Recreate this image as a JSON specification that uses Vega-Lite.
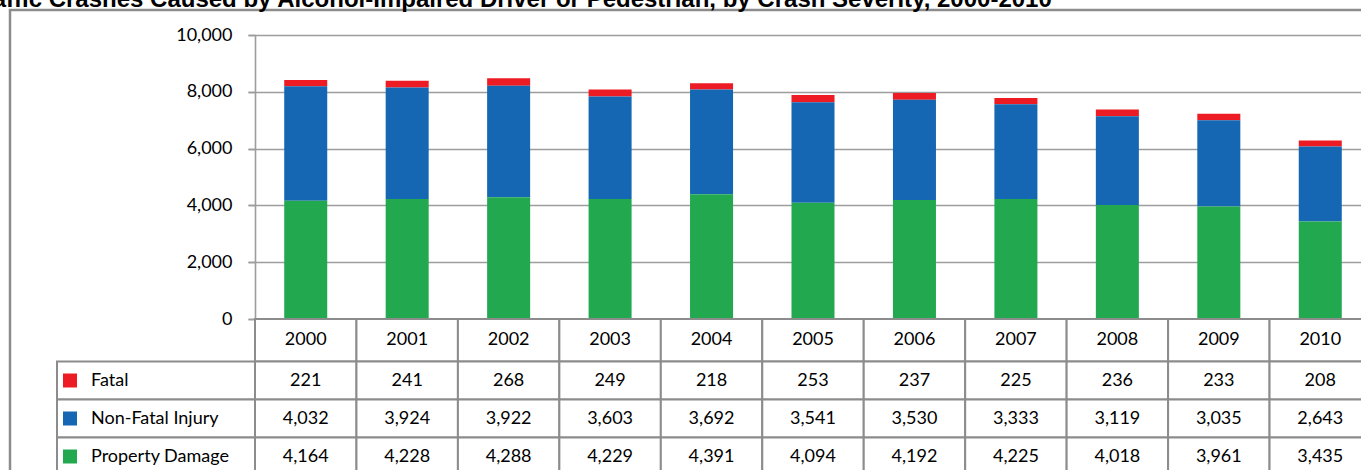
{
  "$schema": "https://vega.github.io/schema/vega-lite/v6.json",
  "autosize": {"type": "none"},
  "padding": {"left": 10, "top": 10, "right": -24, "bottom": -20},
  "width": 1375,
  "height": 480,
  "background": "white",
  "title": {
    "text": "Traffic Crashes Caused by Alcohol-Impaired Driver or Pedestrian, by Crash Severity, 2000-2010",
    "font": "Liberation Sans",
    "fontSize": 24,
    "fontWeight": "bold",
    "color": "black",
    "anchor": "start",
    "frame": "group",
    "dx": -40,
    "dy": 21,
    "baseline": "alphabetic",
    "offset": 0
  },
  "config": {
    "font": "Lato",
    "view": {"stroke": "#8c8c8c", "strokeWidth": 2.5}
  },
  "data": {
    "values": [
      {"year": 2000, "severity": "Fatal", "count": 221},
      {"year": 2001, "severity": "Fatal", "count": 241},
      {"year": 2002, "severity": "Fatal", "count": 268},
      {"year": 2003, "severity": "Fatal", "count": 249},
      {"year": 2004, "severity": "Fatal", "count": 218},
      {"year": 2005, "severity": "Fatal", "count": 253},
      {"year": 2006, "severity": "Fatal", "count": 237},
      {"year": 2007, "severity": "Fatal", "count": 225},
      {"year": 2008, "severity": "Fatal", "count": 236},
      {"year": 2009, "severity": "Fatal", "count": 233},
      {"year": 2010, "severity": "Fatal", "count": 208},
      {"year": 2000, "severity": "Non-Fatal Injury", "count": 4032},
      {"year": 2001, "severity": "Non-Fatal Injury", "count": 3924},
      {"year": 2002, "severity": "Non-Fatal Injury", "count": 3922},
      {"year": 2003, "severity": "Non-Fatal Injury", "count": 3603},
      {"year": 2004, "severity": "Non-Fatal Injury", "count": 3692},
      {"year": 2005, "severity": "Non-Fatal Injury", "count": 3541},
      {"year": 2006, "severity": "Non-Fatal Injury", "count": 3530},
      {"year": 2007, "severity": "Non-Fatal Injury", "count": 3333},
      {"year": 2008, "severity": "Non-Fatal Injury", "count": 3119},
      {"year": 2009, "severity": "Non-Fatal Injury", "count": 3035},
      {"year": 2010, "severity": "Non-Fatal Injury", "count": 2643},
      {"year": 2000, "severity": "Property Damage", "count": 4164},
      {"year": 2001, "severity": "Property Damage", "count": 4228},
      {"year": 2002, "severity": "Property Damage", "count": 4288},
      {"year": 2003, "severity": "Property Damage", "count": 4229},
      {"year": 2004, "severity": "Property Damage", "count": 4391},
      {"year": 2005, "severity": "Property Damage", "count": 4094},
      {"year": 2006, "severity": "Property Damage", "count": 4192},
      {"year": 2007, "severity": "Property Damage", "count": 4225},
      {"year": 2008, "severity": "Property Damage", "count": 4018},
      {"year": 2009, "severity": "Property Damage", "count": 3961},
      {"year": 2010, "severity": "Property Damage", "count": 3435}
    ]
  },
  "resolve": {"scale": {"x": "independent", "y": "independent"}},
  "layer": [
    {
      "mark": {"type": "rule", "opacity": 0},
      "encoding": {
        "y": {
          "field": "count", "type": "quantitative",
          "scale": {"domain": [0, 10000], "range": [309, 25], "nice": false},
          "axis": {
            "orient": "left", "offset": -238, "values": [0, 2000, 4000, 6000, 8000, 10000],
            "tickSize": -1123, "tickColor": "#9d9d9d", "tickWidth": 1.6,
            "domain": false, "labels": false, "grid": false, "title": null
          }
        }
      }
    },
    {
      "mark": {"type": "bar"},
      "encoding": {
        "x": {
          "field": "year", "type": "ordinal",
          "scale": {"range": [245, 1361], "paddingInner": 0.576, "paddingOuter": 0.288},
          "axis": null
        },
        "y": {
          "field": "count", "type": "quantitative", "stack": "zero",
          "scale": {"domain": [0, 10000], "range": [309, 25], "nice": false},
          "axis": {
            "orient": "left", "offset": -245, "values": [0, 2000, 4000, 6000, 8000, 10000],
            "labelExpr": "format(datum.value, ',')", "tickSize": 7, "tickColor": "#9d9d9d", "tickWidth": 1.6,
            "domain": true, "domainColor": "#9d9d9d", "domainWidth": 1.6,
            "labelFont": "Lato", "labelFontSize": 18, "labelColor": "black", "labelPadding": 16,
            "grid": false, "title": null
          }
        },
        "color": {
          "field": "severity", "type": "nominal",
          "scale": {"domain": ["Fatal", "Non-Fatal Injury", "Property Damage"], "range": ["#ED1C24", "#1667B3", "#22A94F"]},
          "legend": null
        },
        "order": {"field": "severity", "sort": "descending"}
      }
    },
    {
      "transform": [{"filter": "datum.severity == 'Fatal'"}],
      "mark": {"type": "rect", "fill": "white", "stroke": "#8c8c8c", "strokeWidth": 2},
      "encoding": {
        "x": {"field": "year", "type": "ordinal", "scale": {"range": [245, 1361], "paddingInner": 0, "paddingOuter": 0}, "axis": null},
        "y": {"datum": "Year", "type": "nominal", "scale": {"domain": ["Year"], "range": [309, 351.5], "paddingInner": 0, "paddingOuter": 0}, "axis": null}
      }
    },
    {
      "transform": [{"filter": "datum.severity == 'Fatal'"}],
      "mark": {"type": "text", "font": "Lato", "fontSize": 18, "color": "black", "baseline": "middle", "align": "center"},
      "encoding": {
        "x": {"field": "year", "type": "ordinal", "scale": {"range": [245, 1361], "paddingInner": 0, "paddingOuter": 0}, "axis": null},
        "y": {"datum": "Year", "type": "nominal", "scale": {"domain": ["Year"], "range": [309, 351.5], "paddingInner": 0, "paddingOuter": 0}, "axis": null},
        "text": {"field": "year", "type": "ordinal"}
      }
    },
    {
      "mark": {"type": "rect", "fill": "white", "stroke": "#8c8c8c", "strokeWidth": 2},
      "encoding": {
        "x": {"field": "year", "type": "ordinal", "scale": {"range": [245, 1361], "paddingInner": 0, "paddingOuter": 0}, "axis": null},
        "y": {"field": "severity", "type": "nominal", "scale": {"domain": ["Fatal", "Non-Fatal Injury", "Property Damage"], "range": [351.5, 465.5], "paddingInner": 0, "paddingOuter": 0}, "axis": null}
      }
    },
    {
      "mark": {"type": "text", "font": "Lato", "fontSize": 18, "color": "black", "baseline": "middle", "align": "center"},
      "encoding": {
        "x": {"field": "year", "type": "ordinal", "scale": {"range": [245, 1361], "paddingInner": 0, "paddingOuter": 0}, "axis": null},
        "y": {"field": "severity", "type": "nominal", "scale": {"domain": ["Fatal", "Non-Fatal Injury", "Property Damage"], "range": [351.5, 465.5], "paddingInner": 0, "paddingOuter": 0}, "axis": null},
        "text": {"field": "count", "type": "quantitative", "format": ","}
      }
    },
    {
      "transform": [{"filter": "datum.year == 2000"}],
      "mark": {"type": "rect", "fill": "white", "stroke": "#8c8c8c", "strokeWidth": 2},
      "encoding": {
        "x": {"datum": "legend", "type": "nominal", "scale": {"domain": ["legend"], "range": [47, 245], "paddingInner": 0, "paddingOuter": 0}, "axis": null},
        "y": {"field": "severity", "type": "nominal", "scale": {"domain": ["Fatal", "Non-Fatal Injury", "Property Damage"], "range": [351.5, 465.5], "paddingInner": 0, "paddingOuter": 0}, "axis": null}
      }
    },
    {
      "transform": [{"filter": "datum.year == 2000"}],
      "mark": {"type": "point", "shape": "square", "filled": true, "size": 196, "opacity": 1},
      "encoding": {
        "x": {"datum": "legend", "type": "nominal", "scale": {"domain": ["legend"], "range": [53, 67], "paddingInner": 0, "paddingOuter": 0}, "axis": null},
        "y": {"field": "severity", "type": "nominal", "scale": {"domain": ["Fatal", "Non-Fatal Injury", "Property Damage"], "range": [351.5, 465.5], "paddingInner": 0, "paddingOuter": 0}, "axis": null},
        "color": {"field": "severity", "type": "nominal", "legend": null}
      }
    },
    {
      "transform": [{"filter": "datum.year == 2000"}],
      "mark": {"type": "text", "font": "Lato", "fontSize": 18, "color": "black", "baseline": "middle", "align": "left"},
      "encoding": {
        "x": {"datum": "legend", "type": "nominal", "scale": {"domain": ["legend"], "range": [81, 81], "paddingInner": 0, "paddingOuter": 0}, "axis": null},
        "y": {"field": "severity", "type": "nominal", "scale": {"domain": ["Fatal", "Non-Fatal Injury", "Property Damage"], "range": [351.5, 465.5], "paddingInner": 0, "paddingOuter": 0}, "axis": null},
        "text": {"field": "severity", "type": "nominal"}
      }
    }
  ]
}
